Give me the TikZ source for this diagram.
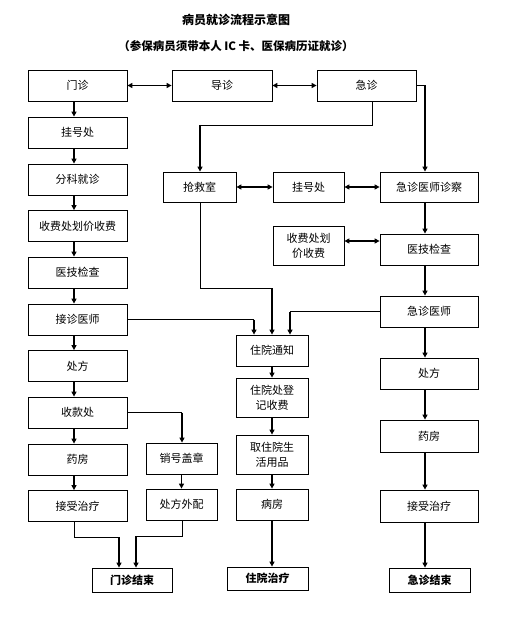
\documentclass[tikz,border=0pt]{standalone}
\usepackage{fontspec}
\setmainfont{Noto Sans CJK SC}
\usetikzlibrary{arrows.meta}
\begin{document}
\begin{tikzpicture}[x=1pt,y=-1pt,
  box/.style={draw,line width=0.8pt,inner sep=0pt,align=center,font=\fontsize{11}{15}\selectfont},
  endbox/.style={box,font=\bfseries\fontsize{11}{15}\selectfont},
  thin/.style={line width=0.8pt},
  arr/.style={line width=1.6pt,-{Triangle[length=5pt,width=5pt]}},
  darr/.style={line width=1.6pt,{Triangle[length=5pt,width=5pt]}-{Triangle[length=5pt,width=5pt]}}]
\useasboundingbox (0,0) rectangle (506,617);
\node[font=\bfseries\fontsize{12}{14}\selectfont] (title) at (236,20) {病员就诊流程示意图};
\node[font=\bfseries\fontsize{11.5}{14}\selectfont] (sub) at (236,46) {（参保病员须带本人 IC 卡、医保病历证就诊）};
% top row
\node[box,minimum width=99pt,minimum height=31pt] (mz) at (77.5,85.5) {门诊};
\node[box,minimum width=100pt,minimum height=31pt] (dz) at (222,85.5) {导诊};
\node[box,minimum width=99pt,minimum height=31pt] (jz) at (366.5,85.5) {急诊};
% left column
\node[box,minimum width=99pt,minimum height=31pt] (gh1) at (77.5,132.5) {挂号处};
\node[box,minimum width=99pt,minimum height=31pt] (fk) at (77.5,179.5) {分科就诊};
\node[box,minimum width=99pt,minimum height=31pt] (sf1) at (77.5,226) {收费处划价收费};
\node[box,minimum width=99pt,minimum height=31pt] (yj1) at (77.5,272.5) {医技检查};
\node[box,minimum width=99pt,minimum height=31pt] (jzys) at (77.5,319.5) {接诊医师};
\node[box,minimum width=99pt,minimum height=31pt] (cf1) at (77.5,366) {处方};
\node[box,minimum width=99pt,minimum height=31pt] (skc) at (77.5,412.5) {收款处};
\node[box,minimum width=99pt,minimum height=31pt] (yf1) at (77.5,459.5) {药房};
\node[box,minimum width=99pt,minimum height=31pt] (js1) at (77.5,506) {接受治疗};
\node[endbox,minimum width=80pt,minimum height=24pt] (mzjs) at (132,580) {门诊结束};
\node[box,minimum width=71pt,minimum height=31pt] (xh) at (181.5,458.5) {销号盖章};
\node[box,minimum width=71pt,minimum height=31pt] (cfwp) at (181.5,504.5) {处方外配};
% emergency row
\node[box,minimum width=73pt,minimum height=30pt] (qjs) at (199.5,187) {抢救室};
\node[box,minimum width=71pt,minimum height=30pt] (gh2) at (308.5,187) {挂号处};
\node[box,minimum width=98pt,minimum height=30pt] (jzzc) at (429,187) {急诊医师诊察};
\node[box,minimum width=71pt,minimum height=39pt] (sf2) at (308.5,245.5) {收费处划\\价收费};
\node[box,minimum width=98pt,minimum height=31pt] (yj2) at (429,249.5) {医技检查};
\node[box,minimum width=98pt,minimum height=31pt] (jzys2) at (429,311.5) {急诊医师};
\node[box,minimum width=98pt,minimum height=31pt] (cf2) at (429,373.5) {处方};
\node[box,minimum width=98pt,minimum height=32pt] (yf2) at (429,436) {药房};
\node[box,minimum width=98pt,minimum height=32pt] (js2) at (429,506) {接受治疗};
\node[endbox,minimum width=81pt,minimum height=24pt] (jzjs) at (429.5,580) {急诊结束};
% inpatient column
\node[box,minimum width=72pt,minimum height=31pt] (zytz) at (272,350.5) {住院通知};
\node[box,minimum width=72pt,minimum height=39pt] (zydj) at (272,397.5) {住院处登\\记收费};
\node[box,minimum width=72pt,minimum height=39pt] (qzy) at (272,454.5) {取住院生\\活用品};
\node[box,minimum width=72pt,minimum height=31pt] (bf) at (272,504.5) {病房};
\node[endbox,minimum width=81pt,minimum height=23pt] (zyzl) at (267.5,578.5) {住院治疗};
% coordinates
\coordinate (c1) at (425,85.5);
\coordinate (c2a) at (372,125);
\coordinate (c2b) at (200,125);
\coordinate (c3) at (254,319.5);
\coordinate (c4a) at (200,288);
\coordinate (c4b) at (272,288);
\coordinate (c5) at (290,311.5);
\coordinate (c6) at (182,412.5);
\coordinate (c7a) at (74,537);
\coordinate (c7b) at (119,537);
\coordinate (c8a) at (182,536);
\coordinate (c8b) at (136,536);
% top connections
\draw[darr] (mz.east) -- (dz.west);
\draw[darr] (dz.east) -- (jz.west);
\draw[thin] (jz.east) -- (c1);
\draw[arr] (c1) -- (c1 |- jzzc.north);
\draw[thin] (c2a |- jz.south) -- (c2a) -- (c2b);
\draw[arr] (c2b) -- (c2b |- qjs.north);
% left column
\draw[arr] ([xshift=-3.5pt]mz.south) -- ([xshift=-3.5pt]gh1.north);
\draw[arr] ([xshift=-3.5pt]gh1.south) -- ([xshift=-3.5pt]fk.north);
\draw[arr] ([xshift=-3.5pt]fk.south) -- ([xshift=-3.5pt]sf1.north);
\draw[arr] ([xshift=-3.5pt]sf1.south) -- ([xshift=-3.5pt]yj1.north);
\draw[arr] ([xshift=-3.5pt]yj1.south) -- ([xshift=-3.5pt]jzys.north);
\draw[arr] ([xshift=-3.5pt]jzys.south) -- ([xshift=-3.5pt]cf1.north);
\draw[arr] ([xshift=-3.5pt]cf1.south) -- ([xshift=-3.5pt]skc.north);
\draw[arr] ([xshift=-3.5pt]skc.south) -- ([xshift=-3.5pt]yf1.north);
\draw[arr] ([xshift=-3.5pt]yf1.south) -- ([xshift=-3.5pt]js1.north);
\draw[thin] (skc.east |- c6) -- (c6);
\draw[arr] (c6) -- (c6 |- xh.north);
\draw[arr] (xh.south) -- (cfwp.north);
\draw[thin] (c7a |- js1.south) -- (c7a) -- (c7b);
\draw[arr] (c7b) -- (c7b |- mzjs.north);
\draw[thin] (c8a |- cfwp.south) -- (c8a) -- (c8b);
\draw[arr] (c8b) -- (c8b |- mzjs.north);
% emergency
\draw[darr] (qjs.east) -- (gh2.west);
\draw[darr] (gh2.east) -- (jzzc.west);
\draw[darr] ([yshift=4.5pt]sf2.east) -- ([yshift=4.5pt]sf2.east -| yj2.west);
\draw[arr] ([xshift=-4pt]jzzc.south) -- ([xshift=-4pt]yj2.north);
\draw[arr] ([xshift=-4pt]yj2.south) -- ([xshift=-4pt]jzys2.north);
\draw[arr] ([xshift=-4pt]jzys2.south) -- ([xshift=-4pt]cf2.north);
\draw[arr] ([xshift=-4pt]cf2.south) -- ([xshift=-4pt]yf2.north);
\draw[arr] ([xshift=-4pt]yf2.south) -- ([xshift=-4pt]js2.north);
\draw[arr] ([xshift=-4pt]js2.south) -- ([xshift=-4.5pt]jzjs.north);
% to inpatient
\draw[thin] (jzys.east) -- (c3);
\draw[arr] (c3) -- (c3 |- zytz.north);
\draw[thin] (c4a |- qjs.south) -- (c4a) -- (c4b);
\draw[arr] (c4b) -- (c4b |- zytz.north);
\draw[thin] (jzys2.west |- c5) -- (c5);
\draw[arr] (c5) -- (c5 |- zytz.north);
\draw[arr] (zytz.south) -- (zydj.north);
\draw[arr] (zydj.south) -- (qzy.north);
\draw[arr] (qzy.south) -- (bf.north);
\draw[arr] (bf.south) -- (bf.south |- zyzl.north);
\end{tikzpicture}
\end{document}
